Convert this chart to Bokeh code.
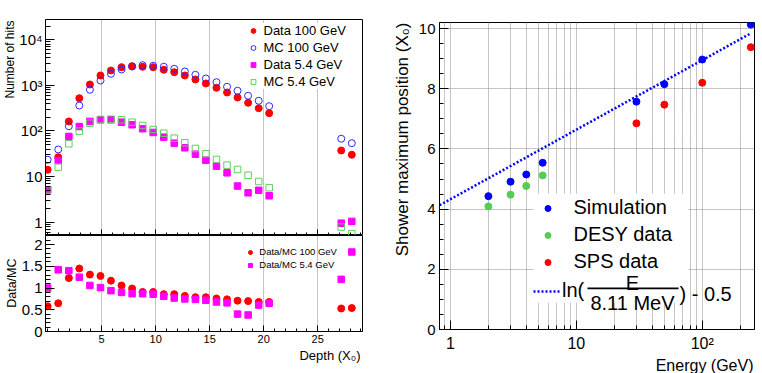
import math
from bokeh.plotting import figure
from bokeh.models import (Range1d, FixedTicker, SingleIntervalTicker, Legend,
                          LegendItem, Label, BoxAnnotation, Title,
                          CustomLabelingPolicy)
from bokeh.layouts import row, column
from bokeh.embed import file_html
from bokeh.resources import INLINE

FONT = "Liberation Sans"

# ---------------- data ----------------
depth = [0.0, 0.98, 1.96, 2.93, 3.91, 4.89, 5.86, 6.84, 7.82, 8.79, 9.77, 10.75,
         11.72, 12.70, 13.68, 14.65, 15.63, 16.61, 17.58, 18.56, 19.54, 20.51,
         27.18, 28.16]
hits_data_100 = [14.1, 26.6, 162, 524, 1047, 1648, 2122, 2506, 2636, 2558, 2506,
                 2198, 1947, 1648, 1347, 1101, 886, 699, 543, 415, 316, 246, 37.3, 30.1]
hits_mc_100 = [23.4, 39.3, 127, 362, 801, 1280, 1796, 2233, 2597, 2773, 2690, 2558,
               2312, 2018, 1708, 1417, 1175, 932, 762, 592, 460, 350, 67.5, 54]
hits_data_5p4 = [5.1, 22.5, 75.7, 125, 162, 176, 176, 156, 137, 112, 92.7, 73.1, 54,
                 42.8, 31, 22.9, 16.9, 12.1, 6.2, 4.4, 5.0, 3.8, 0.95, 1.04]
hits_mc_5p4 = [5.1, 16.1, 52.4, 99, 148, 179, 181, 176, 156, 132, 108, 89.5, 69.5,
               55.1, 41.3, 31.6, 23.7, 17.8, 14.3, 10.7, 7.8, 5.7, 0.78, 0.56]
ratio_100 = [0.58, 0.65, 1.23, 1.45, 1.31, 1.28, 1.17, 1.06, 0.99, 0.91, 0.91, 0.86,
             0.86, 0.82, 0.79, 0.79, 0.76, 0.74, 0.71, 0.70, 0.68, 0.68, 0.53, 0.54]
ratio_5p4 = [1.0, 1.42, 1.40, 1.25, 1.06, 1.01, 0.94, 0.90, 0.87, 0.87, 0.86, 0.81,
             0.77, 0.75, 0.74, 0.72, 0.68, 0.66, 0.40, 0.38, 0.61, 0.65, 1.20, 1.83]

energy_sim = [2, 3, 4, 5.4, 30, 50, 100, 243]
xmax_sim = [4.43, 4.91, 5.15, 5.54, 7.57, 8.15, 8.97, 10.13]
energy_desy = [2, 3, 4, 5.4]
xmax_desy = [4.09, 4.48, 4.77, 5.12]
energy_sps = [30, 50, 100, 243]
xmax_sps = [6.85, 7.47, 8.20, 9.38]
line_energy = [0.82, 243]
line_xmax = [4.13, 9.84]

# ticks / labels
depth_ticks = [5, 10, 15, 20, 25]
hit_ticks = [1, 10, 100, 1000, 10000]
hit_labels = ["1", "10", "10\u00b2", "10\u00b3", "10\u2074"]
ratio_ticks = [0, 0.5, 1, 1.5, 2]
ratio_labels = ["0", "0.5", "1", "1.5", "2"]
energy_ticks = [1, 10, 100]
energy_labels = ["1", "10", "10\u00b2"]

# ---------------- geometry (page pixels) ----------------
X0_START, X0_END = -0.2, 29.15
HIT_START, HIT_END = 0.51, 27860
RAT_START, RAT_END = 0.0, 2.21
E_START, E_END = 0.818, 260.0
XM_START, XM_END = 0.0, 10.2

LEFT_W, RIGHT_W, TOTAL_H = 380, 380, 373
TOP_H = 235
LF_L, LF_R = 38, 362
TF_T, TF_B = 19, 235
BF_T, BF_B = 235, 331
RF_L, RF_R, RF_T, RF_B = 439, 754, 22, 332


def lin(v0, v1, p0, p1, p):
    return v0 + (v1 - v0) * (p - p0) / (p1 - p0)


def logm(v0, v1, p0, p1, p):
    return 10 ** lin(math.log10(v0), math.log10(v1), p0, p1, p)


def rx(px):
    return logm(E_START, E_END, RF_L, RF_R, px)


def ry(py):
    return lin(XM_START, XM_END, RF_B, RF_T, py)


def style(p):
    p.outline_line_color = "black"
    p.outline_line_width = 1
    p.outline_line_alpha = 1
    p.background_fill_color = "white"
    p.border_fill_color = "white"
    for ax in p.axis:
        ax.axis_line_color = "black"
        ax.axis_line_width = 1
        ax.major_tick_out = 0
        ax.minor_tick_out = 0
        ax.major_tick_line_color = "black"
        ax.minor_tick_line_color = "black"
        ax.major_label_text_font = FONT
        ax.major_label_text_color = "black"


def grid_style(g):
    g.grid_line_color = "#8a8a8a"
    g.grid_line_dash = "1 1"
    g.grid_line_width = 1


def axis_title(p, text, side, size, offset=0, standoff=0):
    p.add_layout(Title(text=text, align="right", offset=offset, standoff=standoff,
                       text_font=FONT, text_font_size=size,
                       text_font_style="normal", text_color="black"), side)


def legend_style(leg, size, gw, gh, lh, standoff, spacing, padding):
    leg.label_text_font = FONT
    leg.label_text_font_size = size
    leg.label_text_color = "black"
    leg.glyph_width = gw
    leg.glyph_height = gh
    leg.label_height = lh
    leg.label_standoff = standoff
    leg.spacing = spacing
    leg.padding = padding
    leg.margin = 0
    leg.border_line_color = None


depth_minor = list(range(0, 30))
hide_all = CustomLabelingPolicy(code="""
try { indices.clear() } catch (e) { for (const i of Array.from(indices)) indices.unset(i) }
return indices
""")

# ---------------- top-left: hits ----------------
p1 = figure(width=LEFT_W, height=TOP_H, x_range=Range1d(X0_START, X0_END),
            y_range=Range1d(HIT_START, HIT_END), y_axis_type="log",
            output_backend="svg", toolbar_location=None,
            min_border_left=LF_L, min_border_right=LEFT_W - LF_R,
            min_border_top=TF_T, min_border_bottom=0)
style(p1)
xt1 = FixedTicker(ticks=depth_ticks, minor_ticks=depth_minor)
p1.xaxis.ticker = xt1
p1.xgrid.ticker = xt1
p1.xaxis.major_label_text_font_size = "0px"
p1.xaxis.major_label_standoff = 0
p1.xaxis.major_label_policy = hide_all
p1.xaxis.major_tick_in = 6
p1.xaxis.minor_tick_in = 3
hit_minor = [0.6, 0.7, 0.8, 0.9] + [k * 10 ** d for d in range(0, 5) for k in range(2, 10)]
yt1 = FixedTicker(ticks=hit_ticks, minor_ticks=hit_minor)
p1.yaxis.ticker = yt1
p1.yaxis.major_label_overrides = dict(zip(hit_ticks, hit_labels))
p1.yaxis.major_label_text_font_size = "15px"
p1.yaxis.major_label_standoff = 3
p1.yaxis.major_tick_in = 9
p1.yaxis.minor_tick_in = 5
grid_style(p1.xgrid)
p1.ygrid.visible = False

r_d100 = p1.scatter(depth, hits_data_100, marker="circle", size=7,
                    fill_color="#ff0000", line_color="#ff0000")
r_m100 = p1.scatter(depth, hits_mc_100, marker="circle", size=7,
                    fill_color=None, line_color="#2a2aff", line_width=1)
r_d54 = p1.scatter(depth, hits_data_5p4, marker="square", size=6.5,
                   fill_color="#ff00ff", line_color="#ff00ff")
r_m54 = p1.scatter(depth, hits_mc_5p4, marker="square", size=6.5,
                   fill_color=None, line_color="#5fcf5f", line_width=1)

leg1 = Legend(items=[LegendItem(label="Data 100 GeV", renderers=[r_d100]),
                     LegendItem(label="MC 100 GeV", renderers=[r_m100]),
                     LegendItem(label="Data 5.4 GeV", renderers=[r_d54]),
                     LegendItem(label="MC 5.4 GeV", renderers=[r_m54])],
              location=(240.5 - LF_L - 1, TF_B - 88.5))
legend_style(leg1, "13px", 12, 15, 15, 5, 2, 2)
leg1.background_fill_color = "white"
leg1.background_fill_alpha = 1
p1.add_layout(leg1)
axis_title(p1, "Number of hits", "left", "12px", offset=1)

# ---------------- bottom-left: ratio ----------------
p2 = figure(width=LEFT_W, height=TOTAL_H - TOP_H, x_range=Range1d(X0_START, X0_END),
            y_range=Range1d(RAT_START, RAT_END),
            output_backend="svg", toolbar_location=None,
            min_border_left=LF_L, min_border_right=LEFT_W - LF_R,
            min_border_top=0, min_border_bottom=TOTAL_H - BF_B)
style(p2)
xt2 = FixedTicker(ticks=depth_ticks, minor_ticks=depth_minor)
p2.xaxis.ticker = xt2
p2.xgrid.ticker = xt2
p2.xaxis.major_label_text_font_size = "11px"
p2.xaxis.major_label_standoff = 3
p2.xaxis.major_tick_in = 6
p2.xaxis.minor_tick_in = 3
yt2 = SingleIntervalTicker(interval=0.5, num_minor_ticks=5)
p2.yaxis.ticker = yt2
p2.yaxis.major_label_overrides = dict(zip(ratio_ticks, ratio_labels))
p2.yaxis.major_label_text_font_size = "15px"
p2.yaxis.major_label_standoff = 3
p2.yaxis.major_tick_in = 9
p2.yaxis.minor_tick_in = 5
grid_style(p2.xgrid)
p2.ygrid.visible = False

r_r100 = p2.scatter(depth, ratio_100, marker="circle", size=7,
                    fill_color="#ff0000", line_color="#ff0000")
r_r54 = p2.scatter(depth, ratio_5p4, marker="square", size=6.5,
                   fill_color="#ff00ff", line_color="#ff00ff")

leg2 = Legend(items=[LegendItem(label="Data/MC 100 GeV", renderers=[r_r100]),
                     LegendItem(label="Data/MC 5.4 GeV", renderers=[r_r54])],
              location=(241.3 - LF_L - 3, BF_B - 270.7))
legend_style(leg2, "9.5px", 10, 12, 12, 4, 1, 2)
leg2.background_fill_alpha = 0
p2.add_layout(leg2)
axis_title(p2, "Data/MC", "left", "12.5px", offset=23)
axis_title(p2, "Depth (X\u2080)", "below", "13px", offset=2)

# ---------------- right: shower maximum ----------------
p3 = figure(width=RIGHT_W, height=TOTAL_H, x_axis_type="log",
            x_range=Range1d(E_START, E_END), y_range=Range1d(XM_START, XM_END),
            output_backend="svg", toolbar_location=None,
            min_border_left=RF_L - LEFT_W, min_border_right=LEFT_W + RIGHT_W - RF_R,
            min_border_top=RF_T, min_border_bottom=TOTAL_H - RF_B)
style(p3)
e_minor = [0.9] + [k * 10 ** d for d in range(0, 2) for k in range(2, 10)] + [200]
xt3 = FixedTicker(ticks=energy_ticks, minor_ticks=e_minor)
p3.xaxis.ticker = xt3
p3.xgrid.ticker = xt3
p3.xaxis.major_label_overrides = dict(zip(energy_ticks, energy_labels))
p3.xaxis.major_label_text_font_size = "16px"
p3.xaxis.major_label_standoff = 5
p3.xaxis.major_tick_in = 9
p3.xaxis.minor_tick_in = 4
yt3 = SingleIntervalTicker(interval=2, num_minor_ticks=4)
p3.yaxis.ticker = yt3
p3.ygrid.ticker = yt3
p3.yaxis.major_label_text_font_size = "15px"
p3.yaxis.major_label_standoff = 4
p3.yaxis.major_tick_in = 9
p3.yaxis.minor_tick_in = 4
grid_style(p3.xgrid)
p3.xgrid.minor_grid_line_color = "#8a8a8a"
p3.xgrid.minor_grid_line_dash = "1 1"
grid_style(p3.ygrid)

# white panel behind the legend (hides the grid, like the reference)
p3.add_layout(BoxAnnotation(left=rx(533), right=rx(688), top=ry(195), bottom=ry(305),
                            fill_color="white", fill_alpha=1, line_color=None,
                            level="underlay"))

r_line = p3.line(line_energy, line_xmax, line_color="#0000ff", line_width=2.5,
                 line_dash="2 2")
r_sim = p3.scatter(energy_sim, xmax_sim, marker="circle", size=7,
                   fill_color="#0000ff", line_color="#0000ff")
r_desy = p3.scatter(energy_desy, xmax_desy, marker="circle", size=7,
                    fill_color="#55cc55", line_color="#55cc55")
r_sps = p3.scatter(energy_sps, xmax_sps, marker="circle", size=7,
                   fill_color="#ff0000", line_color="#ff0000")

leg3 = Legend(items=[LegendItem(label="Simulation", renderers=[r_sim]),
                     LegendItem(label="DESY data", renderers=[r_desy]),
                     LegendItem(label="SPS data", renderers=[r_sps])],
              location=(536.5 - RF_L + 3, RF_B - 276.3))
legend_style(leg3, "20px", 15, 22, 22, 19, 4, 4)
leg3.label_width = 110
leg3.background_fill_alpha = 0
p3.add_layout(leg3)

leg4 = Legend(items=[LegendItem(label="ln(", renderers=[r_line])],
              location=(530 - RF_L + 3, RF_B - 305))
legend_style(leg4, "20px", 28, 22, 22, 1, 0, 4)
leg4.background_fill_alpha = 0
p3.add_layout(leg4)


def rlabel(x, y, text, size, align="left"):
    p3.add_layout(Label(x=x, y=y, text=text, text_align=align,
                        text_baseline="alphabetic", text_font=FONT,
                        text_font_size=size, text_color="black", level="overlay"))


rlabel(rx(632), ry(285), "E", "20px", align="center")
rlabel(rx(632), ry(305.5), "8.11 MeV", "20px", align="center")
rlabel(rx(679), ry(296), ") - 0.5", "20px")
p3.add_layout(BoxAnnotation(left=rx(587), right=rx(678), top=ry(289.7),
                            bottom=ry(291.3), fill_color="black", fill_alpha=1,
                            line_color=None, level="overlay"))
axis_title(p3, "Shower maximum position (X\u2080)", "left", "17px", offset=0, standoff=8)
axis_title(p3, "Energy (GeV)", "below", "16px", offset=1)

layout = row(column(p1, p2), p3)
open("out.html", "w").write(file_html(layout, INLINE))
